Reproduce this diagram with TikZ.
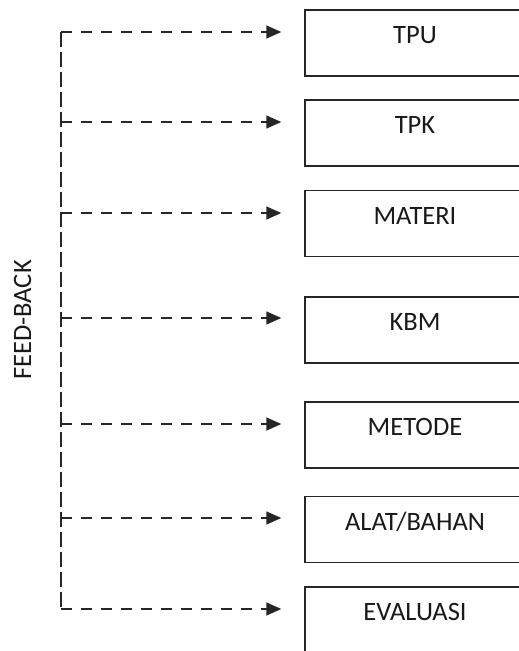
\documentclass[tikz,border=0pt]{standalone}
\usepackage{fontspec}
\setmainfont{Carlito}
\usetikzlibrary{arrows.meta}
\begin{document}
\begin{tikzpicture}[x=1pt,y=-1pt,
  stagebox/.style={draw=black!85,line width=1.5pt,rectangle,minimum width=220pt,minimum height=66pt,inner sep=0pt},
  stagelabel/.style={anchor=base,inner sep=0pt,text=black!90,font=\fontsize{26.5}{30}\selectfont},
  fbline/.style={draw=black!85,line width=1.6pt},
  fbtrunk/.style={fbline,dash pattern=on 15pt off 5pt},
  fbarrow/.style={fbline,dash pattern=on 11pt off 9pt,-{Triangle[length=15pt,width=13pt]},shorten >=23pt}]
\useasboundingbox (0,0) rectangle (519,651);
\clip (0,0) rectangle (519,651);

% stage boxes (left edge at x=305, extending past the right margin)
\node[stagebox] (tpu)  at (415,43)    {};
\node[stagebox] (tpk)  at (415,133)   {};
\node[stagebox] (mat)  at (415,223.5) {};
\node[stagebox] (kbm)  at (415,330)   {};
\node[stagebox] (met)  at (415,435)   {};
\node[stagebox] (alat) at (415,529.5) {};
\node[stagebox] (eval) at (415,620)   {};

% labels sit near the top of each box
\node[stagelabel] at ([yshift=-34.5pt]tpu.north)  {TPU};
\node[stagelabel] at ([yshift=-34.5pt]tpk.north)  {TPK};
\node[stagelabel] at ([yshift=-34.5pt]mat.north)  {MATERI};
\node[stagelabel] at ([yshift=-34.5pt]kbm.north)  {KBM};
\node[stagelabel] at ([yshift=-34.5pt]met.north)  {METODE};
\node[stagelabel] at ([yshift=-34.5pt]alat.north) {ALAT/BAHAN};
\node[stagelabel] at ([yshift=-34.5pt]eval.north) {EVALUASI};

% feedback trunk branch points
\coordinate (f1) at (61,32);
\coordinate (f2) at (61,122);
\coordinate (f3) at (61,213);
\coordinate (f4) at (61,318);
\coordinate (f5) at (61,424);
\coordinate (f6) at (61,518);
\coordinate (f7) at (61,609);

\draw[fbtrunk] (f1) -- (f7);
\draw[fbarrow] (f1) -- (f1 -| tpu.west);
\draw[fbarrow] (f2) -- (f2 -| tpk.west);
\draw[fbarrow] (f3) -- (f3 -| mat.west);
\draw[fbarrow] (f4) -- (f4 -| kbm.west);
\draw[fbarrow] (f5) -- (f5 -| met.west);
\draw[fbarrow] (f6) -- (f6 -| alat.west);
\draw[fbarrow] (f7) -- (f7 -| eval.west);

\node[rotate=90,inner sep=0pt,text=black!90,font=\fontsize{26.5}{30}\selectfont] (fb) at (22.5,320) {FEED-BACK};
\end{tikzpicture}
\end{document}
